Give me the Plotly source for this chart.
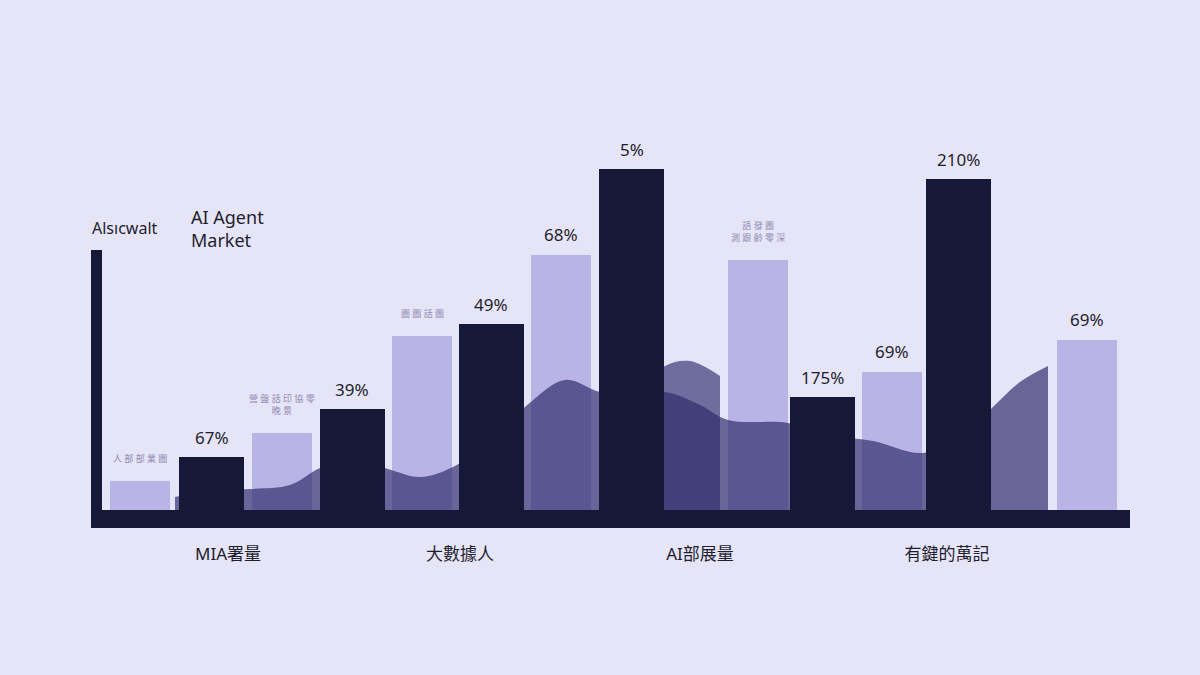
import plotly.graph_objects as go

# ---- data ----
light_x = [50, 192, 332, 471, 668, 802, 996.5]
light_v = [29, 77, 174, 255, 250, 138, 170]
light_lbl = ["", "", "", "68%", "", "69%", "69%"]

dark_x = [121.5, 262, 401, 541.5, 732.5, 868.5]
dark_v = [53, 101, 186, 341, 113, 331]
dark_lbl = ["67%", "39%", "49%", "5%", "175%", "210%"]

# faint small captions above some light bars
note_idx = [0, 1, 2, 4]
note_txt = ["人 部 部 業 圖", "營 盤 話 印 協 零<br>晚 景", "圖 圖 話 圖", "語 發 圖<br>測 跟 齡 零 深"]

# smooth background waves
waveA_x = [85, 120, 160, 200, 228, 260, 298, 330, 365, 400, 435, 475, 510, 550, 575, 610, 638,
           698, 745, 783, 832, 870, 902, 930, 958]
waveA_y = [13, 19, 21, 25, 41, 52, 41, 33, 44, 70, 103, 130, 118, 114, 118, 105, 90,
           87, 74, 69, 57, 72, 102, 128, 144]
waveB_x = [540, 575, 600, 630]
waveB_y = [110, 144, 149, 134]

categories = ["MIA署量", "大數據人", "AI部展量", "有鍵的萬記"]
cat_x = [138, 370, 610, 857]

BG = "#E6E4F7"
DARK = "#151937"
LIGHT = "#B9B3E6"
FONT = "Noto Sans, Noto Sans CJK SC, sans-serif"

fig = go.Figure()

fig.add_trace(go.Bar(x=light_x, y=light_v, width=60, marker=dict(color=LIGHT, line=dict(width=0)),
                     hoverinfo="skip", showlegend=False))
fig.add_trace(go.Scatter(x=waveB_x, y=waveB_y, mode="lines", line=dict(width=0, shape="spline"),
                         fill="tozeroy", fillcolor="rgba(55,51,115,0.68)", hoverinfo="skip",
                         showlegend=False))
fig.add_trace(go.Scatter(x=waveA_x, y=waveA_y, mode="lines", line=dict(width=0, shape="spline"),
                         fill="tozeroy", fillcolor="rgba(45,42,106,0.68)", hoverinfo="skip",
                         showlegend=False))
fig.add_trace(go.Bar(x=dark_x, y=dark_v, width=65, marker=dict(color=DARK, line=dict(width=0)),
                     xaxis="x2", yaxis="y2", hoverinfo="skip", showlegend=False))

ann = []
for x, v, t in zip(dark_x, dark_v, dark_lbl):
    ann.append(dict(x=x, y=v, xref="x", yref="y", text=t, showarrow=False, yanchor="middle",
                    yshift=20, font=dict(size=17, color="#1E1F2E", family=FONT)))
for x, v, t in zip(light_x, light_v, light_lbl):
    if t:
        ann.append(dict(x=x, y=v, xref="x", yref="y", text=t, showarrow=False, yanchor="middle",
                        yshift=21, font=dict(size=17, color="#1E1F2E", family=FONT)))
for i, t in zip(note_idx, note_txt):
    ann.append(dict(x=light_x[i], y=light_v[i], xref="x", yref="y", text=t, showarrow=False,
                    yanchor="bottom", yshift=14, font=dict(size=9, color="#8F8BB2", family=FONT)))

ann.append(dict(x=0.0, y=0.701, xref="paper", yref="paper", text="Alsıcwalt",
                showarrow=False, xanchor="left", yanchor="middle",
                font=dict(size=16, color="#1E1F2E", family=FONT)))
ann.append(dict(x=0.0952, y=0.699, xref="paper", yref="paper", text="AI Agent<br>Market",
                showarrow=False, xanchor="left", yanchor="middle", align="left",
                font=dict(size=18, color="#1E1F2E", family=FONT)))

fig.update_layout(
    width=1200, height=675,
    paper_bgcolor=BG, plot_bgcolor=BG,
    margin=dict(l=90, r=70, t=100, b=147),
    bargap=0, barmode="overlay",
    annotations=ann,
    xaxis=dict(range=[0, 1040], showgrid=False, zeroline=False, showline=False,
               tickmode="array", tickvals=cat_x, ticktext=categories, ticks="",
               ticklabelstandoff=14, tickfont=dict(size=17, color="#1E1F2E", family=FONT)),
    yaxis=dict(range=[-18, 410], showgrid=False, zeroline=False, showticklabels=False),
    xaxis2=dict(range=[0, 1040], overlaying="x", visible=False),
    yaxis2=dict(range=[-18, 410], overlaying="y", visible=False),
    shapes=[
        dict(type="rect", xref="x", yref="y", x0=1, x1=1040, y0=-18, y1=0,
             fillcolor=DARK, line=dict(width=0), layer="above"),
        dict(type="rect", xref="x", yref="y", x0=1, x1=12, y0=-18, y1=260,
             fillcolor=DARK, line=dict(width=0), layer="above"),
    ],
)

fig.write_html("out.html", config={"displayModeBar": False},
               post_script="document.body.style.margin='0';document.body.style.background='#E6E4F7';")
